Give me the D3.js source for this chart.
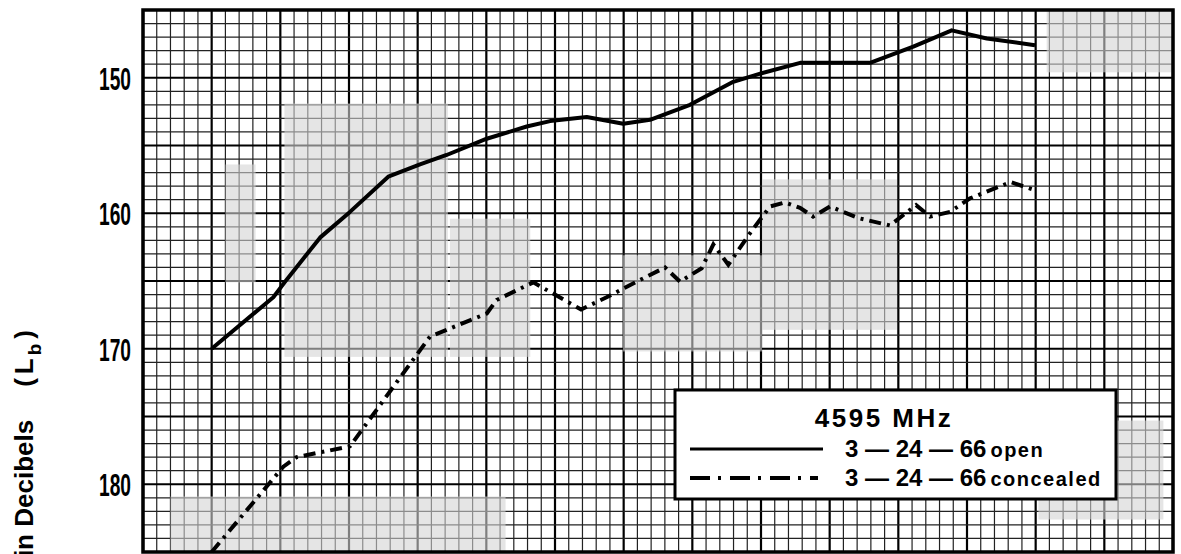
<!DOCTYPE html>
<html lang="en">
<head>
<meta charset="UTF-8">
<title>4595 MHz transmission loss</title>
<script src="https://d3js.org/d3.v7.min.js"></script>
<style>
  body { margin: 0; background: #fff; }
  svg { display: block; }
</style>
</head>
<body>
<svg width="1181" height="554"></svg>
<script>
// x is in chart-paper divisions (the x labels are cut off in the scan)
const openX = [5.0, 9.49, 10.46, 12.89, 15.07, 17.86, 20.17, 22.11, 25.03, 27.94, 29.64, 32.31,
               34.97, 36.92, 39.83, 42.98, 44.94, 47.85, 52.94, 56.09, 58.89, 61.44, 64.95];
const openLb = [170.0, 166.2, 164.9, 161.8, 159.9, 157.3, 156.4, 155.7, 154.5, 153.6, 153.2, 152.9,
                153.4, 153.1, 152.0, 150.3, 149.7, 148.9, 148.9, 147.7, 146.5, 147.1, 147.6];

const concealedX = [5.0, 10.22, 11.19, 15.07, 20.90, 25.03, 25.75, 28.42, 31.9, 33.76, 36.43, 38.01,
                    39.10, 40.68, 41.53, 42.62, 44.32, 45.66, 46.75, 47.84, 48.79, 50.03, 52.06,
                    54.39, 56.29, 57.31, 58.76, 60.22, 63.18, 64.95];
const concealedLb = [185.0, 178.7, 178.0, 177.2, 169.1, 167.4, 166.4, 165.1, 167.1, 166.2, 164.8, 164.0,
                     165.05, 164.06, 162.3, 163.8, 161.3, 159.5, 159.2, 159.6, 160.25, 159.5, 160.35,
                     160.9, 159.4, 160.25, 159.9, 158.9, 157.7, 158.3];

const yTicks = [150, 160, 170, 180];
const legendTitle = "4595 MHz";
const seriesNames = ["open", "concealed"];
const seriesDate = "3 \u2014 24 \u2014 66";

// faded spots of the scanned paper: [x0, x1, lb0, lb1]
const fadedSpots = [
    [6.0, 8.2, 156.4, 165.1],
    [10.3, 22.2, 151.9, 170.6],
    [22.35, 28.2, 160.4, 170.6],
    [2.0, 26.4, 180.9, 185],
    [34.95, 45.07, 163.1, 170.2],
    [45.07, 54.9, 157.5, 168.6],
    [65.8, 75, 145, 149.6],
    [65.2, 74.3, 175.3, 182.6]
];

const svg = d3.select("svg");
const plotLeft = 143, plotRight = 1173, plotTop = 10, plotBottom = 552;

const x = d3.scaleLinear().domain([0, 75]).range([plotLeft, plotRight]);
const y = d3.scaleLinear().domain([145, 185]).range([plotTop, plotBottom]);

// graph paper grid, heavy line every 5 divisions
const grid = svg.append("g");
grid.selectAll(".vline")
    .data(d3.range(0, 76))
    .join("line")
    .attr("x1", d => x(d)).attr("x2", d => x(d))
    .attr("y1", plotTop).attr("y2", plotBottom)
    .attr("stroke", d => d % 5 === 0 ? "#000" : "#222")
    .attr("stroke-width", d => d % 5 === 0 ? 2.2 : 1.2);

grid.selectAll(".hline")
    .data(d3.range(145, 186))
    .join("line")
    .attr("x1", plotLeft).attr("x2", plotRight)
    .attr("y1", d => y(d)).attr("y2", d => y(d))
    .attr("stroke", d => d % 5 === 0 ? "#000" : "#222")
    .attr("stroke-width", d => d % 5 === 0 ? 2.2 : 1.2);

svg.append("g").selectAll("rect")
    .data(fadedSpots)
    .join("rect")
    .attr("x", d => x(d[0]))
    .attr("y", d => y(d[2]))
    .attr("width", d => x(d[1]) - x(d[0]))
    .attr("height", d => y(d[3]) - y(d[2]))
    .attr("fill", "#d4d4d4")
    .attr("opacity", 0.6);

svg.append("rect")
    .attr("x", plotLeft).attr("y", plotTop)
    .attr("width", plotRight - plotLeft).attr("height", plotBottom - plotTop)
    .attr("fill", "none").attr("stroke", "#000").attr("stroke-width", 3.5);

// y axis labels (narrow bold digits)
const yAxis = svg.append("g")
    .attr("transform", `translate(${plotLeft},0)`)
    .call(d3.axisLeft(y).tickValues(yTicks).tickSize(0));
yAxis.select(".domain").remove();
yAxis.selectAll("text")
    .attr("x", -12 / 0.6)
    .attr("dy", "0.36em")
    .attr("transform", "scale(0.6,1)")
    .style("font-family", "'Liberation Sans', Arial, sans-serif")
    .style("font-weight", "bold")
    .style("font-size", "32px")
    .attr("fill", "#000");

// y axis title, cut off at the bottom of the scan
const yTitle = svg.append("text")
    .attr("transform", "translate(33,330) rotate(-90)")
    .attr("text-anchor", "end")
    .style("font-family", "'Liberation Sans', Arial, sans-serif")
    .style("font-weight", "bold")
    .style("font-size", "26px")
    .attr("fill", "#000");
yTitle.append("tspan").text("Basic Transmission Loss in Decibels");
yTitle.append("tspan").attr("dx", 33).text("(");
yTitle.append("tspan").attr("dx", 4).text("L");
yTitle.append("tspan").attr("dx", 3).attr("dy", 8).style("font-size", "19px").text("b");
yTitle.append("tspan").attr("dx", 5).attr("dy", -8).text(")");

// the two curves
const openData = openX.map((d, i) => ({ x: d, lb: openLb[i] }));
const concealedData = concealedX.map((d, i) => ({ x: d, lb: concealedLb[i] }));

const line = d3.line()
    .x(d => x(d.x))
    .y(d => y(d.lb));

svg.append("path")
    .datum(openData)
    .attr("d", line)
    .attr("fill", "none")
    .attr("stroke", "#000")
    .attr("stroke-width", 4)
    .attr("stroke-linejoin", "round");

svg.append("path")
    .datum(concealedData)
    .attr("d", line)
    .attr("fill", "none")
    .attr("stroke", "#000")
    .attr("stroke-width", 4)
    .attr("stroke-dasharray", "12,6,3,6");

// legend
const lg = svg.append("g").attr("transform", "translate(675,390)");
lg.append("rect")
    .attr("width", 441).attr("height", 109)
    .attr("fill", "#fff").attr("stroke", "#000").attr("stroke-width", 3);

lg.append("text")
    .attr("x", 209).attr("y", 37)
    .attr("text-anchor", "middle")
    .style("font-family", "'Liberation Sans', Arial, sans-serif")
    .style("font-weight", "bold")
    .style("font-size", "26px")
    .style("letter-spacing", "2.5px")
    .text(legendTitle);

const rows = lg.selectAll(".row")
    .data(seriesNames)
    .join("g")
    .attr("transform", (d, i) => `translate(0,${59 + i * 29})`);

rows.append("line")
    .attr("x1", 15).attr("x2", (d, i) => i === 0 ? 148 : 143)
    .attr("stroke", "#000")
    .attr("stroke-width", (d, i) => i === 0 ? 3 : 4)
    .attr("stroke-dasharray", (d, i) => i === 0 ? null : "20,8,3,9");

const rowText = rows.append("text")
    .attr("x", 170).attr("y", 8)
    .style("font-family", "'Liberation Sans', Arial, sans-serif")
    .style("font-weight", "bold")
    .style("font-size", "24px");
rowText.append("tspan").text(seriesDate);
rowText.append("tspan")
    .attr("dx", 4)
    .style("font-size", "20px")
    .style("letter-spacing", "1.5px")
    .text(d => d);
</script>
</body>
</html>
